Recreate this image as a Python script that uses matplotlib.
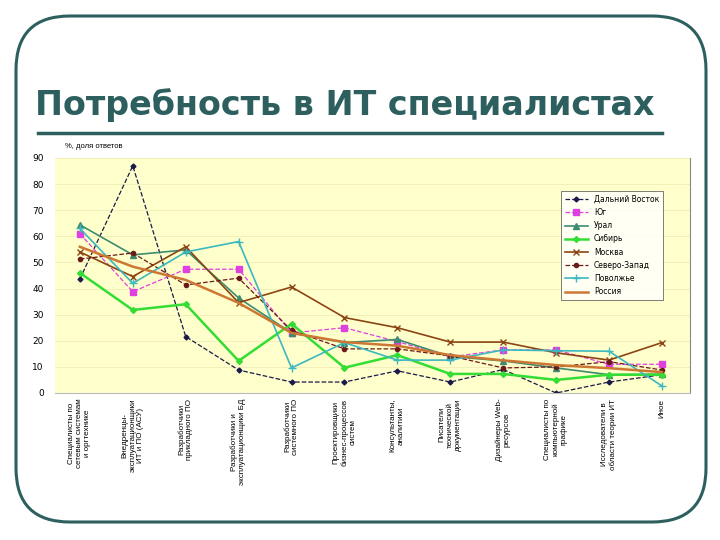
import matplotlib.pyplot as plt
import numpy as np
from matplotlib.patches import FancyBboxPatch
from matplotlib.lines import Line2D

# categories (x axis)
categories = [
    'Специалисты по\nсетевым системам\nи оргтехнике',
    'Внедренцы-\nэксплуатационщики\nИТ и ПО (АСУ)',
    'Разработчики\nприкладного ПО',
    'Разработчики и\nэксплуатационщики БД',
    'Разработчики\nсистемного ПО',
    'Проектировщики\nбизнес-процессов\nсистем',
    'Консультанты,\nаналитики',
    'Писатели\nтехнической\nдокументации',
    'Дизайнеры Web-\nресурсов',
    'Специалисты по\nкомпьютерной\nграфике',
    'Исследователи в\nобласти теории ИТ',
    'Иное',
]

# values, %
far_east   = [43.7, 87.0, 21.6, 8.8, 4.2, 4.2, 8.5, 4.2, 9.0, 0.0, 4.2, 7.0]
south      = [61.0, 38.8, 47.4, 47.4, 23.0, 25.0, 19.7, 13.8, 16.5, 16.5, 11.0, 11.0]
ural       = [64.4, 52.9, 54.8, 36.4, 23.0, 19.3, 20.5, 14.0, 12.3, 9.6, 7.0, 7.2]
siberia    = [46.0, 31.8, 34.0, 12.3, 26.5, 9.7, 14.5, 7.3, 7.3, 5.0, 7.0, 7.0]
moscow     = [54.0, 44.6, 56.0, 34.6, 40.6, 28.9, 25.0, 19.5, 19.5, 15.4, 12.6, 19.3]
north_west = [51.3, 53.6, 41.4, 44.0, 24.0, 16.9, 16.9, 14.2, 9.6, 10.0, 12.0, 8.8]
volga      = [63.0, 42.0, 54.0, 58.0, 9.6, 19.3, 12.6, 12.6, 16.5, 16.2, 16.0, 2.7]
russia     = [56.0, 48.4, 43.3, 34.5, 23.0, 19.5, 18.1, 14.5, 12.5, 10.7, 9.5, 8.0]

teal = '#2d5f5f'

fig = plt.figure(figsize=(7.2, 5.4), dpi=100)
fig.patch.set_facecolor('white')

# slide frame
frame = FancyBboxPatch((16 / 720, 18 / 540), 690 / 720, 506 / 540,
                       boxstyle='round,pad=0,rounding_size=0.075',
                       transform=fig.transFigure, fill=False,
                       edgecolor=teal, linewidth=2.2, mutation_aspect=720 / 540)
fig.patches.append(frame)

fig.text(0.479, 1 - 105 / 540, 'Потребность в ИТ специалистах',
         ha='center', va='center', fontsize=24, fontweight='bold',
         family='DejaVu Sans', color=teal)
fig.add_artist(Line2D([38 / 720, 662 / 720], [1 - 133 / 540, 1 - 133 / 540],
                      transform=fig.transFigure, color=teal, linewidth=2.5))

ax = fig.add_axes([55 / 720, 1 - 393 / 540, 635 / 720, 235 / 540])
ax.set_facecolor('#ffffcc')
x = np.arange(len(categories))

ax.plot(x, far_east, color='#1a1a4a', linestyle='--', linewidth=0.9,
        marker='D', markersize=2.5, label='Дальний Восток')
ax.plot(x, south, color='#e040e0', linestyle='--', linewidth=0.9,
        marker='s', markersize=4, label='Юг')
ax.plot(x, ural, color='#3d8c70', linewidth=1.2,
        marker='^', markersize=4, label='Урал')
ax.plot(x, siberia, color='#33dd33', linewidth=1.8,
        marker='D', markersize=3, label='Сибирь')
ax.plot(x, moscow, color='#8b4513', linewidth=1.2,
        marker='x', markersize=5, label='Москва')
ax.plot(x, north_west, color='#6b1a1a', linestyle='--', linewidth=0.9,
        marker='o', markersize=3, label='Северо-Запад')
ax.plot(x, volga, color='#3cb8c0', linewidth=1.2,
        marker='+', markersize=6, label='Поволжье')
ax.plot(x, russia, color='#cc7733', linewidth=1.8, label='Россия')

ax.set_xlim(-0.47, 11.53)
ax.set_ylim(0, 90)
ax.set_yticks(np.arange(0, 91, 10))
ax.tick_params(axis='y', labelsize=6.5, length=0, pad=8)
ax.set_xticks(x)
ax.set_xticklabels(categories, rotation=90, fontsize=5.8, va='top',
                   ha='center', family='Liberation Sans')
ax.tick_params(axis='x', length=0, pad=4)
ax.yaxis.grid(True, color='#f0ecb8', linewidth=0.6)
for side in ['top', 'left']:
    ax.spines[side].set_visible(False)
ax.spines['bottom'].set_color('#bbbbbb')
ax.spines['right'].set_color('#888888')

fig.text(65 / 720, 1 - 147 / 540, '%, доля ответов', fontsize=5.5,
         va='center', family='Liberation Sans')

leg = ax.legend(loc='upper right', bbox_to_anchor=(0.963, 0.874), fontsize=5.5,
                frameon=True, fancybox=False, edgecolor='#444444',
                facecolor='white', borderpad=0.45, labelspacing=0.55,
                handlelength=3)
leg.get_frame().set_linewidth(0.6)

fig.savefig('out.png', dpi=100)
